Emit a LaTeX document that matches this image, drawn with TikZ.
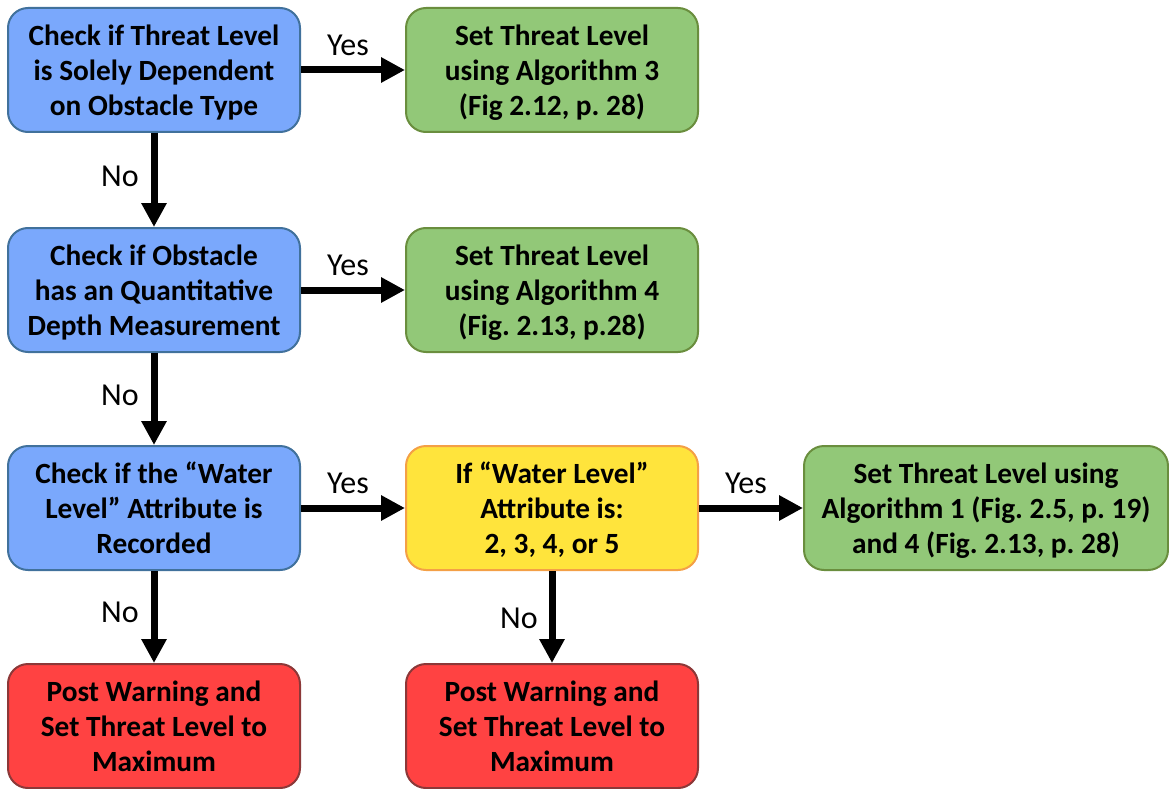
\documentclass[tikz,border=0pt]{standalone}
\usepackage{fontspec}
\setmainfont{Carlito}
\usetikzlibrary{arrows.meta}
\frenchspacing

\definecolor{chkfill}{RGB}{122,168,252}
\definecolor{chkline}{RGB}{65,113,156}
\definecolor{setfill}{RGB}{146,200,120}
\definecolor{setline}{RGB}{106,142,62}
\definecolor{iffill}{RGB}{255,228,60}
\definecolor{ifline}{RGB}{244,160,70}
\definecolor{warnfill}{RGB}{255,66,66}
\definecolor{warnline}{RGB}{140,56,56}

\tikzset{
  box/.style={rounded corners=15pt, line width=1.5pt, align=center,
    minimum width=219pt, minimum height=93pt, inner sep=2pt, text depth=0pt,
    font=\fontsize{22}{26.3}\selectfont\bfseries},
  chkbox/.style={box, fill=chkfill, draw=chkline},
  setbox/.style={box, fill=setfill, draw=setline},
  ifbox/.style={box, fill=iffill, draw=ifline},
  warnbox/.style={box, fill=warnfill, draw=warnline},
  flow/.style={line width=5.25pt, -{Triangle[length=18pt, width=18pt]}},
  lbl/.style={font=\fontsize{24}{28}\selectfont}
}

\begin{document}
\begin{tikzpicture}[x=0.75pt, y=-0.75pt]
  \useasboundingbox (0,0) rectangle (1169,788);

  % linke Spalte: Pruefungen
  \node[chkbox] (chkType) at (154,70) {Check if Threat Level\\is Solely Dependent\\on Obstacle Type};
  \node[chkbox] (chkDepth) at (154,290) {Check if Obstacle\\has an Quantitative\\Depth Measurement};
  \node[chkbox] (chkWater) at (154,508) {Check if the “Water\\Level” Attribute is\\Recorded};
  \node[warnbox] (warnA) at (154,726) {Post Warning and\\Set Threat Level to\\Maximum};

  % mittlere Spalte
  \node[setbox] (setAlg3) at (552,70) {Set Threat Level\\using Algorithm 3\\(Fig 2.12, p. 28)};
  \node[setbox] (setAlg4) at (552,290) {Set Threat Level\\using Algorithm 4\\(Fig. 2.13, p.28)};
  \node[ifbox] (ifWater) at (552,508) {If “Water Level”\\Attribute is:\\2, 3, 4, or 5};
  \node[warnbox] (warnB) at (552,726) {Post Warning and\\Set Threat Level to\\Maximum};

  % rechte Spalte
  \node[setbox, minimum width=273pt] (setAlg14) at (986,508) {Set Threat Level using\\Algorithm 1 (Fig. 2.5, p. 19)\\and 4 (Fig. 2.13, p. 28)};

  % Pfeile
  \draw[flow] (chkType) -- (setAlg3);
  \draw[flow] (chkDepth) -- (setAlg4);
  \draw[flow] (chkWater) -- (ifWater);
  \draw[flow] (ifWater) -- (setAlg14);
  \draw[flow] (chkType) -- (chkDepth);
  \draw[flow] (chkDepth) -- (chkWater);
  \draw[flow] (chkWater) -- (warnA);
  \draw[flow] (ifWater) -- (warnB);

  % Beschriftungen
  \node[lbl] (yes1) at (348,45) {Yes};
  \node[lbl] (yes2) at (348,265) {Yes};
  \node[lbl] (yes3) at (348,483) {Yes};
  \node[lbl] (yes4) at (746,483) {Yes};
  \node[lbl] (no1) at (120,176) {No};
  \node[lbl] (no2) at (120,395) {No};
  \node[lbl] (no3) at (120,612) {No};
  \node[lbl] (no4) at (519,618) {No};
\end{tikzpicture}
\end{document}
